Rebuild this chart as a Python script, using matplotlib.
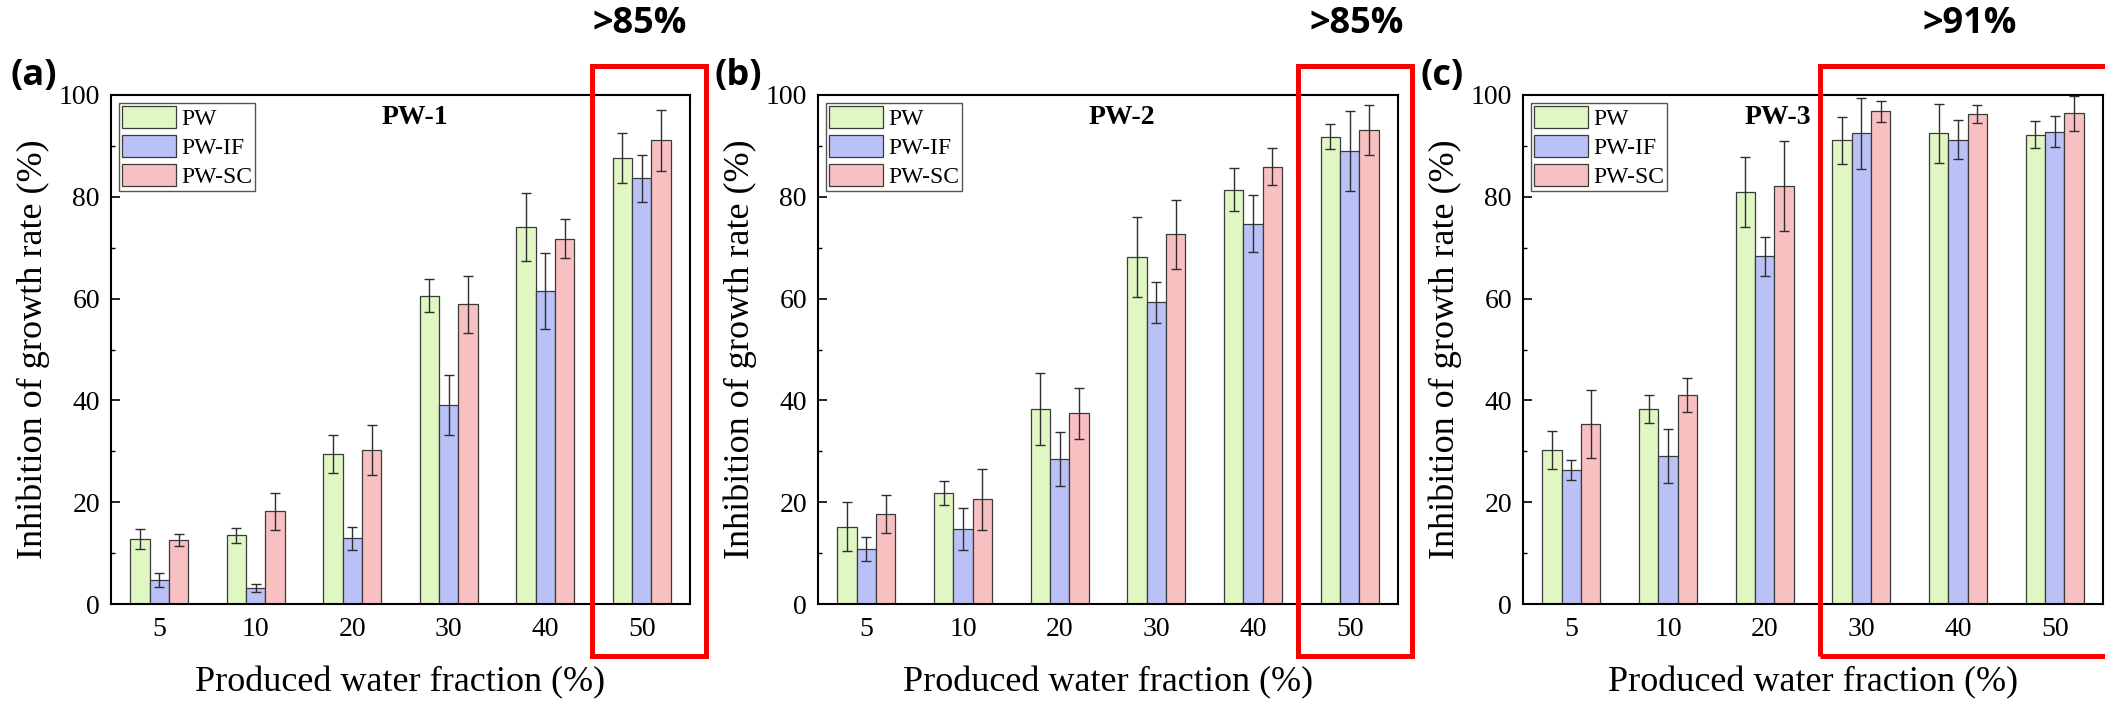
import numpy as np
import matplotlib
matplotlib.use('Agg')
import matplotlib.pyplot as plt
from matplotlib.patches import Rectangle
from matplotlib.ticker import MultipleLocator

## produced water fraction categories (x axis)
fractions = ['5', '10', '20', '30', '40', '50']
treatments = ['PW', 'PW-IF', 'PW-SC']
bar_colors = ['#e0f7c4', '#b9c1f6', '#f9c0c2']

## inhibition of growth rate (%) -> one list per treatment: PW, PW-IF, PW-SC
pw1_means = [[12.8, 13.5, 29.5, 60.6, 74.0, 87.6],
             [4.7, 3.2, 12.9, 39.1, 61.5, 83.6],
             [12.5, 18.2, 30.3, 58.9, 71.8, 91.1]]
pw1_errs = [[1.9, 1.5, 3.8, 3.3, 6.7, 4.9],
            [1.3, 0.8, 2.2, 5.9, 7.4, 4.6],
            [1.2, 3.6, 4.9, 5.6, 3.8, 6.0]]

pw2_means = [[15.2, 21.8, 38.3, 68.2, 81.4, 91.8],
             [10.8, 14.7, 28.4, 59.3, 74.7, 89.0],
             [17.7, 20.6, 37.5, 72.6, 85.9, 93.2]]
pw2_errs = [[4.8, 2.4, 7.1, 7.9, 4.2, 2.5],
            [2.4, 4.1, 5.3, 4.0, 5.6, 7.8],
            [3.8, 6.0, 5.0, 6.8, 3.6, 4.9]]

pw3_means = [[30.3, 38.3, 80.9, 91.1, 92.5, 92.2],
             [26.3, 29.0, 68.3, 92.5, 91.2, 92.8],
             [35.4, 41.1, 82.1, 96.8, 96.3, 96.4]]
pw3_errs = [[3.7, 2.8, 6.9, 4.6, 5.8, 2.7],
            [2.0, 5.3, 3.9, 7.0, 3.8, 3.0],
            [6.7, 3.3, 8.9, 2.1, 1.8, 3.4]]

panel_titles = ['PW-1', 'PW-2', 'PW-3']
panel_tags = ['(a)', '(b)', '(c)']
highlight_text = ['>85%', '>85%', '>91%']

W, H = 2105, 703
plt.rcParams['font.family'] = 'Liberation Serif'
sans = ['Open Sans', 'DejaVu Sans']


def fig_box(left, right, top, bottom):
    ''' pixel box -> figure fraction [x0, y0, w, h] '''
    return [left / W, 1 - bottom / H, (right - left) / W, (bottom - top) / H]


def bar_panel(ax, means, errs, title, title_x):
    x = np.arange(1, len(fractions) + 1)
    width = 0.2
    for i, (m, e) in enumerate(zip(means, errs)):
        ax.bar(x + (i - 1) * width, m, width, color=bar_colors[i], edgecolor='#3a3a3a',
               linewidth=0.9, label=treatments[i], zorder=2)
        ax.errorbar(x + (i - 1) * width, m, yerr=e, fmt='none', ecolor='#2e2e2e',
                    elinewidth=1.0, capsize=3.6, capthick=1.0, zorder=3)
    ax.set_xlim(0.5, 6.5)
    ax.set_ylim(0, 100)
    ax.set_xticks(x)
    ax.set_xticklabels(fractions)
    ax.yaxis.set_major_locator(MultipleLocator(20))
    ax.yaxis.set_minor_locator(MultipleLocator(10))
    ax.tick_params(axis='x', length=0, pad=9, labelsize=20)
    ax.tick_params(axis='y', which='major', direction='in', length=6.5, width=1.2, pad=8, labelsize=20)
    ax.tick_params(axis='y', which='minor', direction='in', length=3.2, width=1.0)
    for sp in ax.spines.values():
        sp.set_linewidth(1.5)
    ax.set_xlabel('Produced water fraction (%)', fontsize=26, labelpad=18)
    ax.set_ylabel('Inhibition of growth rate (%)', fontsize=26, labelpad=6)
    ax.text(title_x, 0.955, title, transform=ax.transAxes, ha='center', va='center',
            fontsize=20, fontweight='bold')
    leg = ax.legend(loc='upper left', fontsize=17, handlelength=2.3, handleheight=1.1,
                    labelspacing=0.2, handletextpad=0.25, borderpad=0.1,
                    borderaxespad=0.35, fancybox=False, framealpha=1)
    leg.get_frame().set_edgecolor('#555555')
    leg.get_frame().set_linewidth(1.0)


fig = plt.figure(figsize=(W / 100, H / 100), dpi=100)

axes_px = [(111, 690), (818, 1398), (1523, 2103)]
title_pos = [0.525, 0.524, 0.44]
all_means = [pw1_means, pw2_means, pw3_means]
all_errs = [pw1_errs, pw2_errs, pw3_errs]
for (l, r), m, e, t, tx in zip(axes_px, all_means, all_errs, panel_titles, title_pos):
    ax = fig.add_axes(fig_box(l, r, 95, 604))
    bar_panel(ax, m, e, t, tx)

## panel tags (a), (b), (c)
for x_px, tag in zip([11, 715, 1420], panel_tags):
    fig.text(x_px / W, 1 - 76 / H, tag, ha='left', va='center', fontsize=26,
             fontweight='bold', family=sans)

## red boxes around the high-inhibition fractions + their labels
red_px = [(592, 706), (1298, 1412), (1820, 2115)]
text_x = [640, 1357, 1970]
for (l, r), tx, s in zip(red_px, text_x, highlight_text):
    fig.add_artist(Rectangle((l / W, 1 - 656 / H), (r - l) / W, (656 - 66) / H,
                             transform=fig.transFigure, fill=False, edgecolor='#ff0000',
                             linewidth=3.6, clip_on=False, zorder=10))
    fig.text(tx / W, 1 - 24 / H, s, ha='center', va='center', fontsize=26,
             fontweight='bold', family=sans)

fig.savefig('out.png', dpi=100)
